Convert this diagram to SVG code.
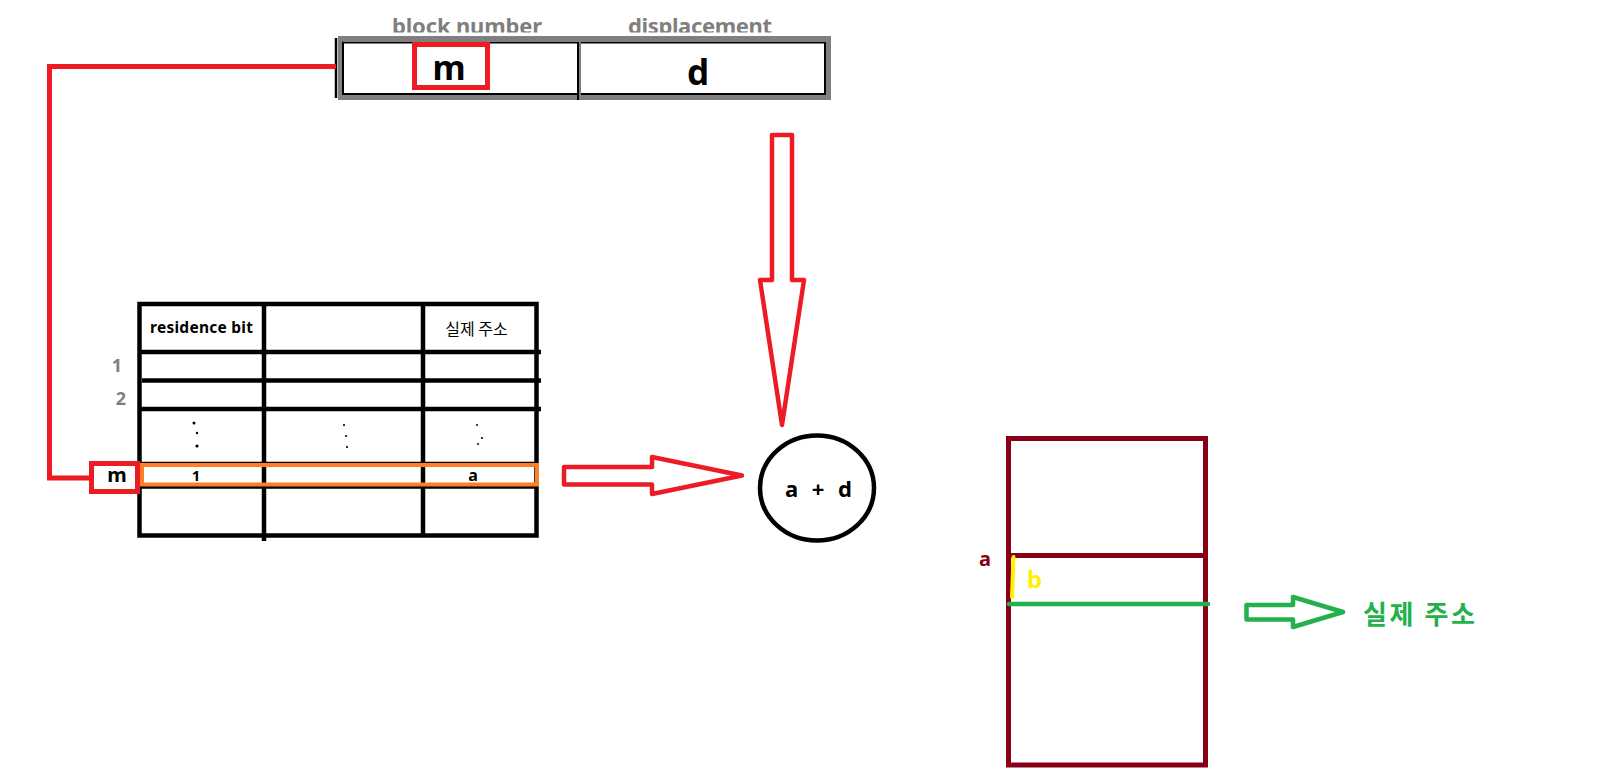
<svg xmlns="http://www.w3.org/2000/svg" width="1602" height="776" viewBox="0 0 1602 776">
<style>
.lat{font-family:"Noto Sans","Noto Sans CJK KR",sans-serif;font-weight:bold}
.kr{font-family:"Noto Sans CJK KR","Noto Sans",sans-serif}
.blk{fill:none;stroke:#000;stroke-width:4.5}
.red{fill:none;stroke:#ed1c24;stroke-width:5}
.arrow{fill:none;stroke-width:4.5;stroke-linejoin:round}
</style>
<defs>
<clipPath id="headclip"><rect x="0" y="0" width="1602" height="32.5"/></clipPath>
</defs>
<rect width="1602" height="776" fill="#fff"/>

<g id="address-bar">
  <g clip-path="url(#headclip)">
    <text class="lat" x="467" y="33.5" font-size="22" fill="#7f7f7f" text-anchor="middle" textLength="150">block number</text>
    <text class="lat" x="700" y="33.5" font-size="22" fill="#7f7f7f" text-anchor="middle" textLength="144">displacement</text>
  </g>
  <rect x="340.5" y="38.5" width="488" height="59" fill="none" stroke="#7f7f7f" stroke-width="5"/>
  <rect x="343" y="42.5" width="482" height="51.5" fill="none" stroke="#000" stroke-width="2"/>
  <line x1="336" y1="38" x2="336" y2="98" stroke="#000" stroke-width="2.5"/>
  <line x1="579.5" y1="40" x2="579.5" y2="100" stroke="#7f7f7f" stroke-width="3"/>
  <line x1="578" y1="42" x2="578" y2="100" stroke="#000" stroke-width="2"/>
  <rect x="414.5" y="44.5" width="73" height="43" class="red"/>
  <text class="lat" x="449" y="80" font-size="34" fill="#000" text-anchor="middle">m</text>
  <text class="lat" x="698" y="85" font-size="35" fill="#000" text-anchor="middle">d</text>
</g>

<g id="block-table">
  <rect x="139.5" y="304" width="397" height="231.5" class="blk"/>
  <line x1="264" y1="304" x2="264" y2="541" class="blk"/>
  <line x1="423" y1="304" x2="423" y2="535.5" class="blk"/>
  <line x1="139.5" y1="352" x2="541" y2="352" class="blk"/>
  <line x1="142" y1="380.5" x2="541" y2="380.5" class="blk"/>
  <line x1="139.5" y1="409" x2="541" y2="409" class="blk"/>
  <line x1="139.5" y1="464" x2="536.5" y2="464" class="blk"/>
  <line x1="139.5" y1="486.5" x2="536.5" y2="486.5" class="blk"/>
  <text class="lat" x="150" y="333" font-size="15.5" fill="#000" textLength="103">residence bit</text>
  <text class="kr" x="476.5" y="335" font-size="16" fill="#000" text-anchor="middle">실제 주소</text>
  <text class="lat" x="117" y="372" font-size="18" fill="#7f7f7f" text-anchor="middle">1</text>
  <text class="lat" x="121" y="405" font-size="18" fill="#7f7f7f" text-anchor="middle">2</text>
  <g fill="#000">
    <circle cx="194" cy="423" r="1.5"/><circle cx="197" cy="433" r="1.2"/><circle cx="197" cy="446" r="1.6"/>
    <circle cx="344" cy="425" r="1.1"/><circle cx="346" cy="436" r="1.1"/><circle cx="347" cy="447" r="1.1"/>
    <circle cx="477" cy="425" r="1"/><circle cx="482" cy="438" r="1.1"/><circle cx="478" cy="444" r="1"/>
  </g>
  <rect x="142" y="465" width="395" height="19.5" fill="none" stroke="#ff7f27" stroke-width="4"/>
  <text class="lat" x="196" y="481" font-size="15" fill="#000" text-anchor="middle">1</text>
  <text class="lat" x="473" y="481" font-size="16" fill="#000" text-anchor="middle">a</text>
  <rect x="91.5" y="463.5" width="46" height="28" class="red"/>
  <text class="lat" x="117" y="482" font-size="20" fill="#000" text-anchor="middle">m</text>
</g>

<g id="adder">
  <ellipse cx="817" cy="488" rx="57" ry="52.5" fill="none" stroke="#000" stroke-width="4.5"/>
  <text class="lat" x="818.5" y="497" font-size="22" fill="#000" text-anchor="middle" textLength="67">a + d</text>
</g>

<g id="memory">
  <rect x="1008.5" y="438.5" width="197" height="326.5" fill="none" stroke="#880015" stroke-width="5"/>
  <line x1="1008.5" y1="555.5" x2="1205.5" y2="555.5" stroke="#880015" stroke-width="5"/>
  <line x1="1013.5" y1="557" x2="1012" y2="597" stroke="#fff200" stroke-width="4" stroke-linecap="round"/>
  <line x1="1009" y1="604" x2="1208" y2="604" stroke="#22b14c" stroke-width="4.5" stroke-linecap="round"/>
  <text class="lat" x="985" y="566" font-size="20" fill="#880015" text-anchor="middle">a</text>
  <text class="lat" x="1027" y="588" font-size="24" fill="#fff200">b</text>
</g>

<g id="real-address">
  <text class="kr" x="1363" y="624" font-size="26" font-weight="bold" fill="#22b14c" textLength="112">실제 주소</text>
</g>

<g id="connectors">
  <polyline points="336,66.5 49.5,66.5 49.5,478 91,478" class="red" stroke-linejoin="miter"/>
  <polygon points="772,135 792,135 792,280 804,280 782,425 760,280 772,280" class="arrow" stroke="#ed1c24"/>
  <polygon points="564,467 652,467 652,457 742,475.5 652,494 652,484.5 564,484.5" class="arrow" stroke="#ed1c24"/>
  <polygon points="1246.5,605 1293,605 1293,597 1343,612 1293,627 1293,619.5 1246.5,619.5" class="arrow" stroke="#22b14c"/>
</g>
</svg>
